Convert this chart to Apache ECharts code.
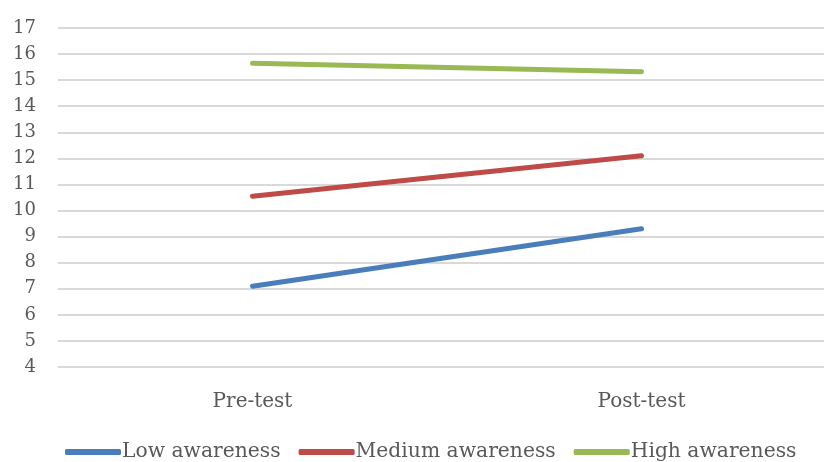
<!DOCTYPE html>
<html>
<head>
<meta charset="utf-8">
<script src="https://cdn.jsdelivr.net/npm/echarts@6/dist/echarts.min.js"></script>
<style>
  html, body { margin: 0; padding: 0; background: #ffffff; }
  #chart { width: 824px; height: 462px; }
</style>
</head>
<body>
<div id="chart"></div>
<script>
// Test phases on the category axis
const categories = ['Pre-test', 'Post-test'];

// Mean scores per awareness group
const lowAwareness = [7.1, 9.3];
const mediumAwareness = [10.55, 12.1];
const highAwareness = [15.65, 15.32];

// Value axis range
const yMin = 4;
const yMax = 17;
const yStep = 1;

const textColor = '#595959';
const fontFamily = '"DejaVu Serif", "Liberation Serif", serif';

const chart = echarts.init(document.getElementById('chart'), null, { renderer: 'canvas' });

function lineSeries(name, data, color) {
  return {
    name: name,
    type: 'line',
    data: data,
    symbol: 'none',
    lineStyle: { width: 5, color: color, cap: 'round' },
    itemStyle: { color: color },
    animation: false
  };
}

chart.setOption({
  backgroundColor: '#ffffff',
  animation: false,
  // plot area runs past the right edge of the canvas
  grid: { left: 58, width: 778, top: 28, height: 339, containLabel: false, outerBoundsMode: 'none' },
  xAxis: {
    type: 'category',
    data: categories,
    boundaryGap: true,
    axisLine: { show: false },
    axisTick: { show: false },
    axisLabel: { color: textColor, fontFamily: fontFamily, fontSize: 20, margin: 25 }
  },
  yAxis: {
    type: 'value',
    min: yMin,
    max: yMax,
    interval: yStep,
    axisLine: { show: false },
    axisTick: { show: false },
    axisLabel: { color: textColor, fontFamily: fontFamily, fontSize: 18, margin: 22 },
    splitLine: { lineStyle: { color: '#d9d9d9', width: 2 } }
  },
  legend: {
    top: 437,
    left: 60,
    itemWidth: 56,
    itemHeight: 6,
    itemGap: 18,
    icon: 'roundRect',
    textStyle: { color: textColor, fontFamily: fontFamily, fontSize: 20.3, padding: [0, 0, 0, -4] },
    data: ['Low awareness', 'Medium awareness', 'High awareness']
  },
  series: [
    lineSeries('Low awareness', lowAwareness, '#4a7ebb'),
    lineSeries('Medium awareness', mediumAwareness, '#be4b48'),
    lineSeries('High awareness', highAwareness, '#98b954')
  ]
});
</script>
</body>
</html>
